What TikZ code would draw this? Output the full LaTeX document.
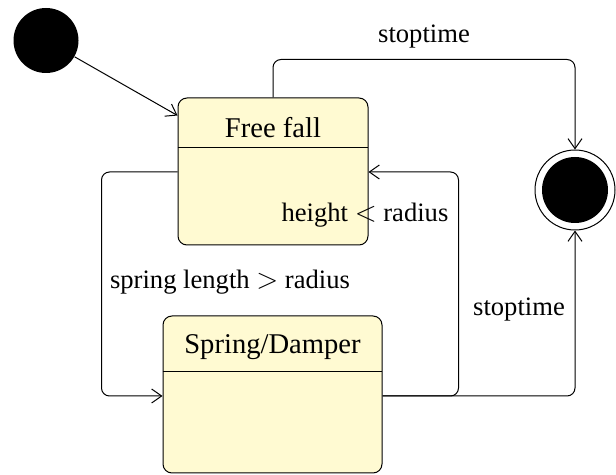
\documentclass[tikz,border=0pt]{standalone}
\usepackage{fontspec}
\setmainfont{Liberation Serif}
\usetikzlibrary{arrows.meta}
\definecolor{statefill}{RGB}{255,250,210}
\begin{document}
\begin{tikzpicture}[x=0.5pt,y=-0.5pt,
        font=\fontsize{14.3}{17}\selectfont,
        line width=0.5pt,
        state/.style={draw,fill=statefill,rounded corners=4.5pt,inner sep=0pt},
        guard/.style={font=\fontsize{13.3}{16}\selectfont},
        trans/.style={-{Straight Barb[length=5pt,width=7pt]},rounded corners=4pt}]
    \useasboundingbox (0,0) rectangle (616,475);

    % initial and final states
    \node[circle,fill=black,minimum size=32.5pt,inner sep=0pt] (init) at (46,40.5) {};
    \node[circle,draw,minimum size=40pt,inner sep=0pt] (final) at (575,190) {};
    \node[circle,fill=black,minimum size=33pt,inner sep=0pt] (finaldot) at (final) {};

    % states
    \node[state,minimum width=95pt,minimum height=73.5pt] (free) at (273,171.5) {};
    \draw (free.north west) ++(0,50) -- ++(190,0);
    \node (freetitle) at (273,128) {Free fall};

    \node[state,minimum width=109.5pt,minimum height=78.5pt] (spring) at (272.5,394.5) {};
    \draw (spring.north west) ++(0,56) -- ++(219,0);
    \node (springtitle) at (272.5,347) {Spring/Damper};

    % transitions
    \draw[trans] (init) -- ([yshift=-9pt]free.north west);
    \draw[trans] (free.north) -- ++(0,-38) -| (final.north);
    \draw[trans] ([yshift=-0.25pt]free.west) -- ++(-76,0) |- ([yshift=-0.75pt]spring.west);
    \draw[trans] ([yshift=-0.75pt]spring.east) -- ++(76,0) |- ([yshift=-0.25pt]free.east);
    \draw[trans] ([yshift=-0.75pt]spring.east) -| (final.south);

    \node[guard] at (424,37) {stoptime};
    \node[guard] at (365,215) {height $<$ radius};
    \node[guard] at (230,282) {spring length $>$ radius};
    \node[guard] at (519,310) {stoptime};
\end{tikzpicture}
\end{document}
